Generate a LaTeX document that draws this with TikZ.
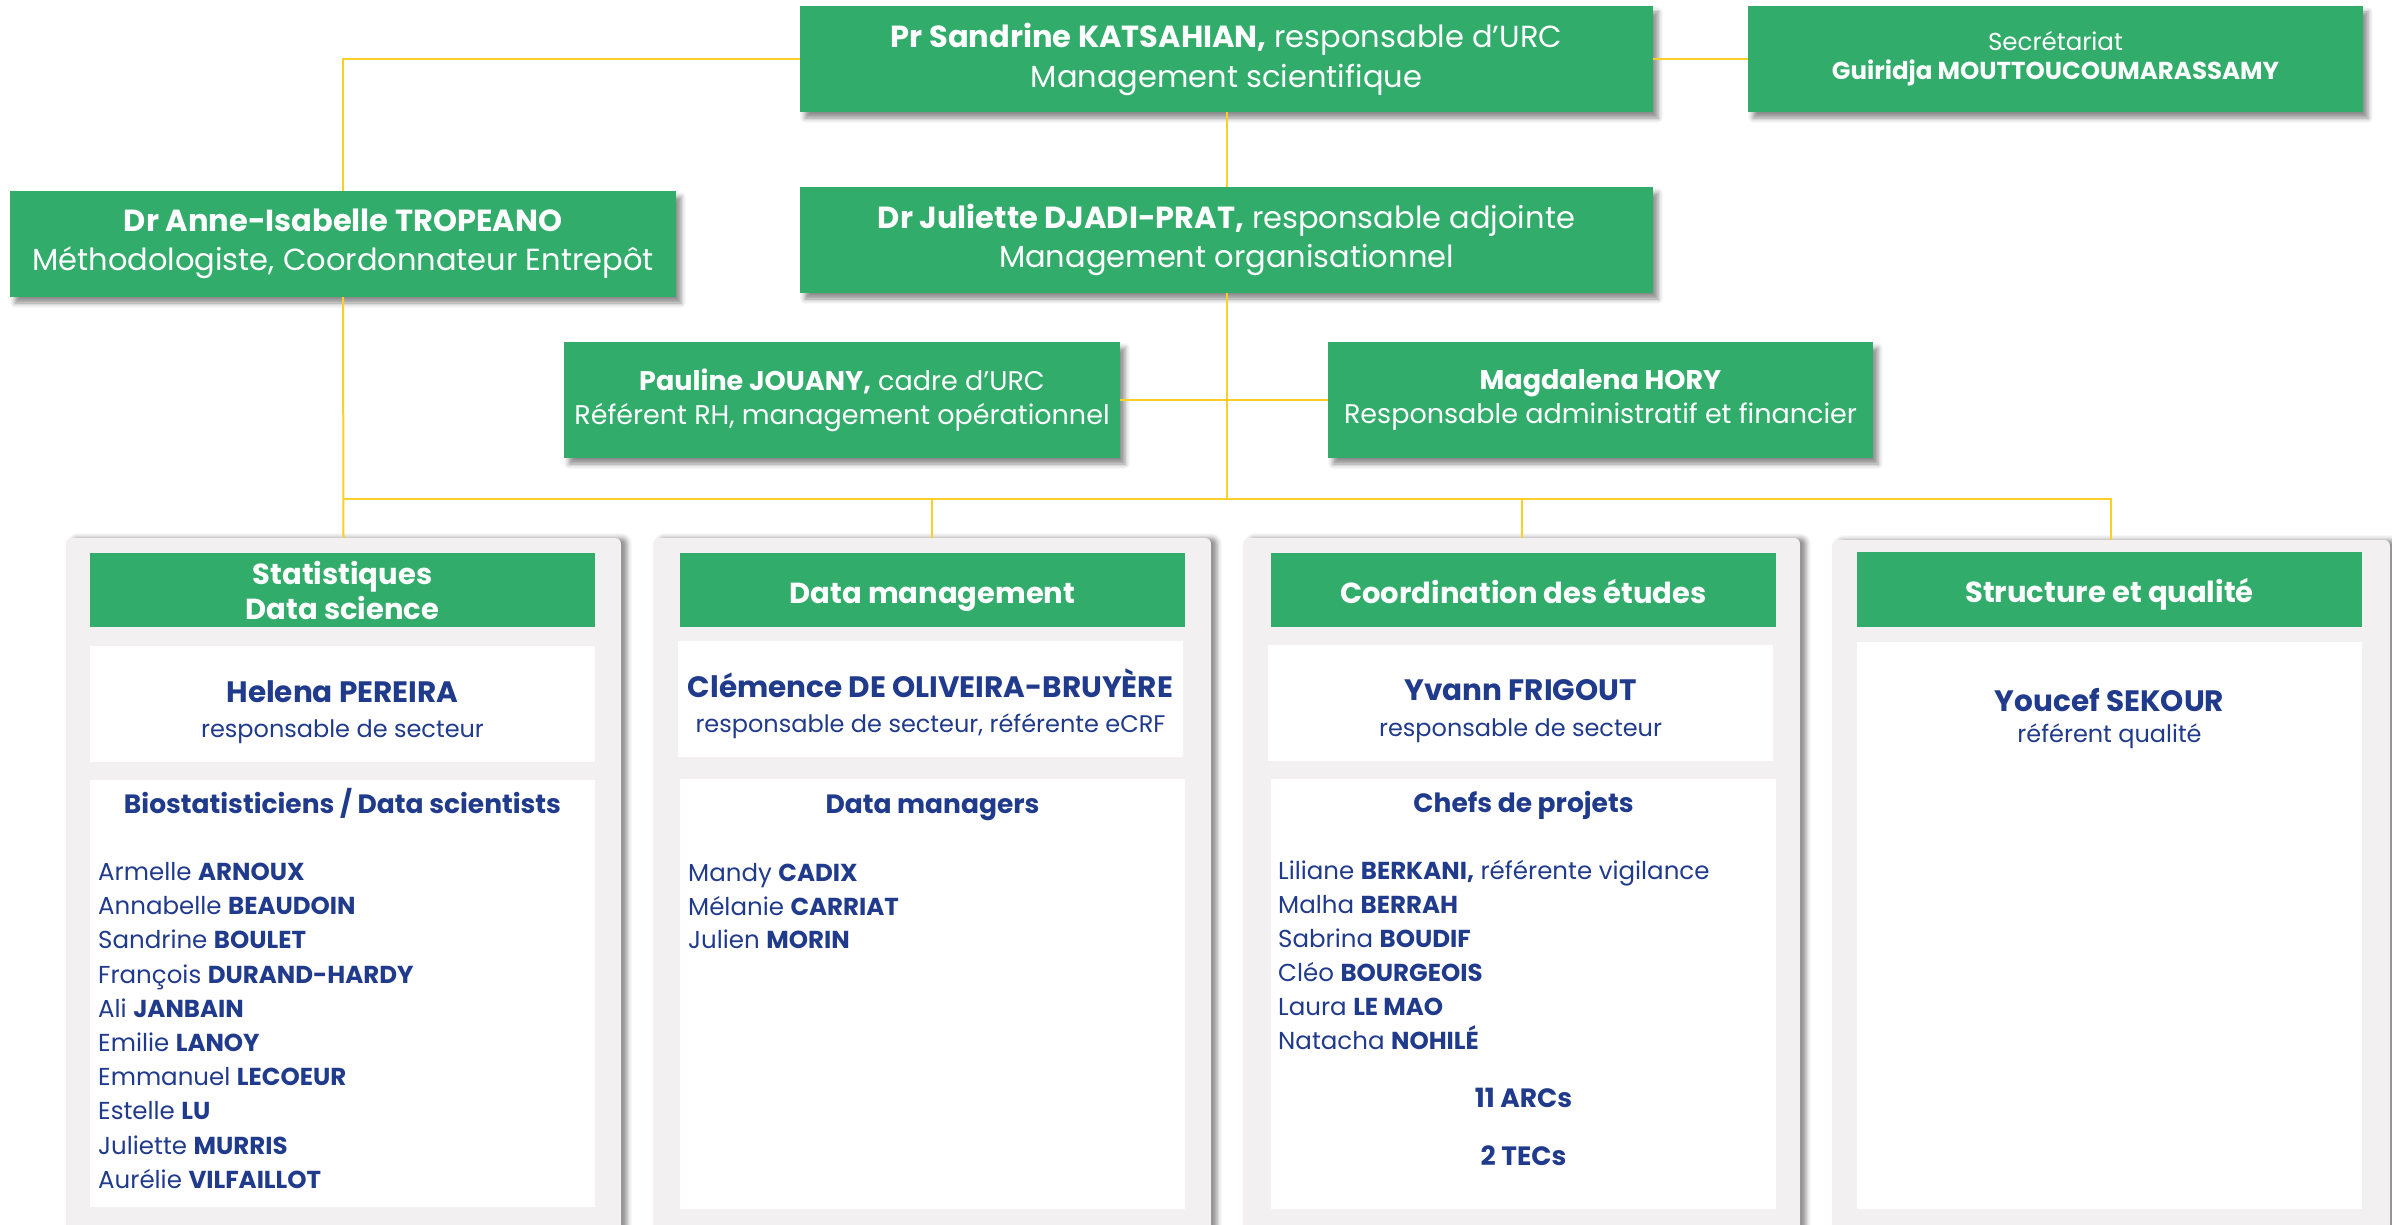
\documentclass[tikz,border=0pt]{standalone}
\usepackage{fontspec}
\setmainfont{Poppins}
\usetikzlibrary{shadows.blur}
\definecolor{grn}{RGB}{49,172,106}
\definecolor{navy}{RGB}{32,58,140}
\definecolor{colgray}{RGB}{242,240,241}
\definecolor{conncol}{RGB}{250,208,40}
\tikzset{
  conn/.style={draw=conncol, line width=2pt},
  topbox/.style={fill=grn, text=white, inner sep=0pt, align=center,
    blur shadow={shadow xshift=5pt, shadow yshift=-6pt, shadow blur radius=5pt, shadow opacity=45}},
  colbox/.style={fill=colgray, inner sep=0pt, rounded corners=6pt,
    blur shadow={shadow xshift=6pt, shadow yshift=0pt, shadow blur radius=5pt, shadow opacity=45}},
  headbox/.style={fill=grn, text=white, inner sep=0pt, align=center, font=\fontsize{29}{35}\selectfont\bfseries},
  headboxone/.style={fill=grn, text=white, inner sep=0pt, font=\fontsize{29}{35}\selectfont\bfseries,
    text height=26pt, text depth=0pt},
  whitebox/.style={fill=white, inner sep=0pt},
  txt/.style={text=navy, inner sep=0pt, text height=.7em, text depth=0pt},
  namebig/.style={txt, font=\fontsize{29.5}{32}\selectfont\bfseries},
  rolesm/.style={txt, font=\fontsize{24}{28}\selectfont},
  listhead/.style={txt, font=\fontsize{26.5}{30}\selectfont\bfseries},
  listitem/.style={txt, anchor=west, font=\fontsize{24.5}{28}\selectfont},
}
\begin{document}
\begin{tikzpicture}[x=1pt,y=-1pt]
\useasboundingbox (0,0) rectangle (2392,1225);

\coordinate (bus) at (1226.5,499);

% top level boxes
\node[topbox, minimum width=853pt, minimum height=106pt,
  font=\fontsize{30.5}{40}\selectfont] (kats) at (1226.5,59)
  {\textbf{Pr Sandrine KATSAHIAN,} responsable d’URC\\Management scientifique};
\node[topbox, minimum width=615pt, minimum height=106pt,
  font=\fontsize{24.5}{29}\selectfont] (secr) at (2055.5,59)
  {Secrétariat\\\textbf{Guiridja MOUTTOUCOUMARASSAMY}};
\node[topbox, minimum width=666pt, minimum height=106pt,
  font=\fontsize{30.5}{39}\selectfont] (trop) at (343,244)
  {\textbf{Dr Anne-Isabelle TROPEANO}\\Méthodologiste, Coordonnateur Entrepôt};
\node[topbox, minimum width=853pt, minimum height=106pt,
  font=\fontsize{30.5}{39}\selectfont] (djadi) at (1226.5,240)
  {\textbf{Dr Juliette DJADI-PRAT,} responsable adjointe\\Management organisationnel};
\node[topbox, minimum width=556pt, minimum height=116pt,
  font=\fontsize{27}{34}\selectfont] (jouany) at (842,400)
  {\textbf{Pauline JOUANY,} cadre d’URC\\Référent RH, management opérationnel};
\node[topbox, minimum width=545pt, minimum height=116pt,
  font=\fontsize{27}{34}\selectfont] (hory) at (1600.5,400)
  {\textbf{Magdalena HORY}\\Responsable administratif et financier};

% column backgrounds
\node[colbox, minimum width=555pt, minimum height=704pt] (col1) at (343.5,890) {};
\node[colbox, minimum width=558pt, minimum height=704pt] (col2) at (932,890) {};
\node[colbox, minimum width=557pt, minimum height=704pt] (col3) at (1521.5,890) {};
\node[colbox, minimum width=558pt, minimum height=700pt] (col4) at (2111,890) {};

% connectors
\draw[conn] (kats.west) -| (trop.north);
\draw[conn] (kats.east) -- (secr.west);
\draw[conn] (kats.south) -- (djadi.north);
\draw[conn] (djadi.south) -- (bus);
\draw[conn] (jouany.east) -- (hory.west);
\draw[conn] (trop.south) -- (col1.north);
\draw[conn] (trop.south |- bus) -| (col4.north);
\draw[conn] (bus -| col2.north) -- (col2.north);
\draw[conn] (bus -| col3.north) -- (col3.north);

% headers
\node[headbox, minimum width=505pt, minimum height=74pt] (h1) at (342.5,590) {Statistiques\\Data science};
\node[headboxone, minimum width=505pt, minimum height=74pt] (h2) at (932.5,590) {Data management};
\node[headboxone, minimum width=505pt, minimum height=74pt] (h3) at (1523.5,590) {Coordination des études};
\node[headboxone, minimum width=505pt, minimum height=75pt] (h4) at (2109.5,589.5) {Structure et qualité};

% white boxes
\node[whitebox, minimum width=505pt, minimum height=116pt] (w1a) at (342.5,704) {};
\node[whitebox, minimum width=505pt, minimum height=427pt] (w1b) at (342.5,993.5) {};
\node[whitebox, minimum width=505pt, minimum height=116pt] (w2a) at (930.5,699) {};
\node[whitebox, minimum width=505pt, minimum height=430pt] (w2b) at (932.5,994) {};
\node[whitebox, minimum width=505pt, minimum height=116pt] (w3a) at (1520.5,703) {};
\node[whitebox, minimum width=505pt, minimum height=430pt] (w3b) at (1523.5,994) {};
\node[whitebox, minimum width=505pt, minimum height=567pt] (w4) at (2109.5,925.5) {};

% column 1
\node[namebig] (n1) at (342.5,699) {Helena PEREIRA};
\node[rolesm] (r1) at (342.5,734) {responsable de secteur};
\node[listhead] (lh1) at (342.5,810) {Biostatisticiens / Data scientists};
\foreach \f/\l [count=\i from 0] in {Armelle/ARNOUX, Annabelle/BEAUDOIN, Sandrine/BOULET,
  François/DURAND-HARDY, Ali/JANBAIN, Emilie/LANOY, Emmanuel/LECOEUR, Estelle/LU,
  Juliette/MURRIS, Aurélie/VILFAILLOT}
  \node[listitem] (a\i) at (98,877+34.2*\i) {\f\ \textbf{\l}};

% column 2
\node[namebig] (n2) at (930.5,694) {Clémence DE OLIVEIRA-BRUYÈRE};
\node[rolesm] (r2) at (930.5,729) {responsable de secteur, référente eCRF};
\node[listhead] (lh2) at (932.5,810) {Data managers};
\foreach \f/\l [count=\i from 0] in {Mandy/CADIX, Mélanie/CARRIAT, Julien/MORIN}
  \node[listitem] (b\i) at (688,878+33.7*\i) {\f\ \textbf{\l}};

% column 3
\node[namebig] (n3) at (1520.5,697) {Yvann FRIGOUT};
\node[rolesm] (r3) at (1520.5,733) {responsable de secteur};
\node[listhead] (lh3) at (1523.5,809) {Chefs de projets};
\node[listitem] (c0) at (1278,876) {Liliane \textbf{BERKANI,} référente vigilance};
\foreach \f/\l [count=\i from 1] in {Malha/BERRAH, Sabrina/BOUDIF, Cléo/BOURGEOIS,
  Laura/LE MAO, Natacha/NOHILÉ}
  \node[listitem] (c\i) at (1278,876+34*\i) {\f\ \textbf{\l}};
\node[listhead] (arcs) at (1523.5,1104) {11 ARCs};
\node[listhead] (tecs) at (1523.5,1162) {2 TECs};

% column 4
\node[namebig] (n4) at (2109.5,708) {Youcef SEKOUR};
\node[rolesm] (r4) at (2109.5,739) {référent qualité};
\end{tikzpicture}
\end{document}
